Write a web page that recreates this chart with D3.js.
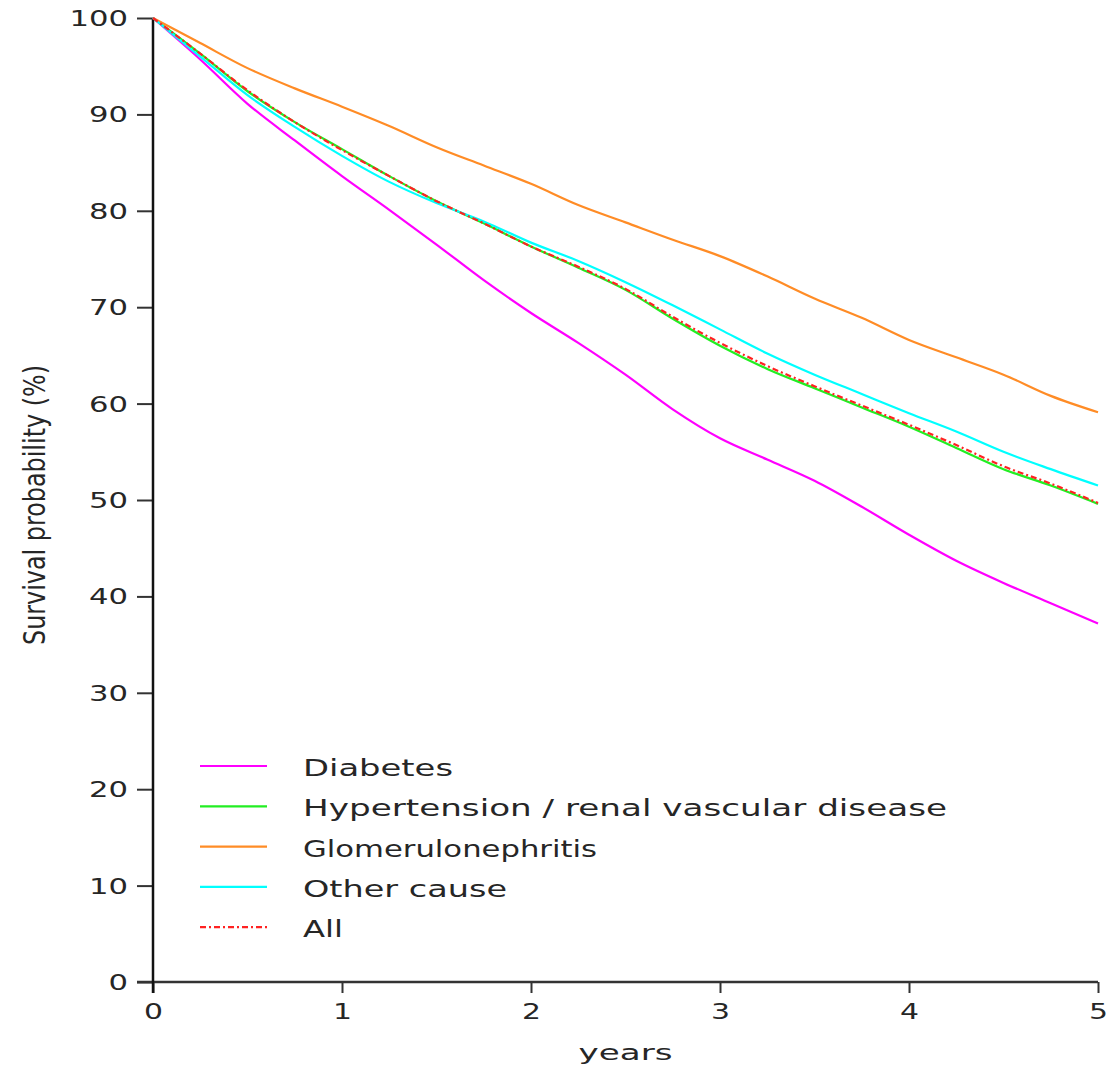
<!DOCTYPE html>
<html>
<head>
<meta charset="utf-8">
<script src="https://cdn.jsdelivr.net/npm/d3@7"></script>
<style>
  html, body { margin: 0; padding: 0; background: #fff; }
  svg { display: block; }
  text { font-family: "DejaVu Sans", Verdana, sans-serif; fill: #262626; }
</style>
</head>
<body>
<svg id="chart" width="1107" height="1066"></svg>
<script>
// Time since start (years)
const years = [0, 0.25, 0.5, 0.75, 1, 1.25, 1.5, 1.75, 2, 2.25, 2.5, 2.75, 3, 3.25, 3.5, 3.75, 4, 4.25, 4.5, 4.75, 5];

// Survival probability (%) by primary cause
const diabetes           = [100, 95.7, 91.1, 87.3, 83.6, 80.1, 76.5, 72.8, 69.4, 66.3, 63.0, 59.4, 56.4, 54.2, 52.0, 49.3, 46.4, 43.7, 41.4, 39.3, 37.2];
const hypertension       = [100, 96.3, 92.4, 89.2, 86.4, 83.6, 81.0, 78.7, 76.3, 74.1, 71.8, 68.8, 66.0, 63.6, 61.6, 59.6, 57.6, 55.4, 53.2, 51.5, 49.6];
const glomerulonephritis = [100, 97.4, 94.8, 92.7, 90.8, 88.8, 86.6, 84.7, 82.8, 80.6, 78.8, 77.0, 75.3, 73.2, 70.9, 68.9, 66.6, 64.8, 63.0, 60.8, 59.1];
const otherCause         = [100, 96.0, 92.0, 88.7, 85.7, 83.0, 80.8, 78.9, 76.7, 74.8, 72.6, 70.2, 67.7, 65.2, 63.0, 61.0, 59.0, 57.1, 55.0, 53.2, 51.5];
const allCauses          = [100, 96.3, 92.5, 89.2, 86.3, 83.6, 81.0, 78.7, 76.3, 74.2, 71.9, 69.0, 66.3, 63.9, 61.8, 59.8, 57.8, 55.7, 53.5, 51.7, 49.7];

const seriesNames = ["Diabetes", "Hypertension / renal vascular disease", "Glomerulonephritis", "Other cause", "All"];
const seriesValues = [diabetes, hypertension, glomerulonephritis, otherCause, allCauses];

const xTicks = [0, 1, 2, 3, 4, 5];
const yTicks = [0, 10, 20, 30, 40, 50, 60, 70, 80, 90, 100];

const xTitle = "years";
const yTitle = "Survival probability (%)";

// Styling per series
const seriesColors = ["#ff00ff", "#22ee22", "#ff8c26", "#00ffff", "#ff2222"];
const seriesDash = [null, null, null, null, "6,3,2,3"];
const legendTextWidths = [150, 644, 294, 204, 40];

const svg = d3.select("#chart");

const x = d3.scaleLinear().domain([0, 5]).range([153, 1098]);
const y = d3.scaleLinear().domain([0, 100]).range([982, 18]);

// Wide, letter-spaced label look
function stretch(sel, perChar) {
  sel.attr("textLength", function () { return this.textContent.length * perChar; })
     .attr("lengthAdjust", "spacingAndGlyphs");
}

// Y axis
const yAxis = svg.append("g")
  .attr("transform", `translate(${x(0)},0)`)
  .call(d3.axisLeft(y).tickValues(yTicks).tickFormat(d3.format("d")).tickSize(16).tickSizeOuter(0).tickPadding(9));
yAxis.select(".domain").remove();
yAxis.selectAll(".tick line").attr("stroke", "#333").attr("stroke-width", 2);
yAxis.selectAll(".tick text")
  .attr("font-size", 21)
  .attr("font-family", "DejaVu Sans, sans-serif")
  .attr("fill", "#2a2a2a")
  .attr("dy", "0.36em")
  .call(stretch, 19.5);

// X axis
const xAxis = svg.append("g")
  .attr("transform", `translate(0,${y(0)})`)
  .call(d3.axisBottom(x).tickValues(xTicks).tickFormat(d3.format("d")).tickSize(11).tickSizeOuter(0).tickPadding(11));
xAxis.select(".domain").remove();
xAxis.selectAll(".tick line").attr("stroke", "#333").attr("stroke-width", 2);
xAxis.selectAll(".tick text")
  .attr("font-size", 21)
  .attr("font-family", "DejaVu Sans, sans-serif")
  .attr("fill", "#2a2a2a")
  .call(stretch, 19);

// Axis lines
svg.append("line")
  .attr("x1", x(0) - 16).attr("x2", x(5))
  .attr("y1", y(0)).attr("y2", y(0))
  .attr("stroke", "#333").attr("stroke-width", 2.5);
svg.append("line")
  .attr("x1", x(0)).attr("x2", x(0))
  .attr("y1", y(100)).attr("y2", y(0) + 11)
  .attr("stroke", "#111").attr("stroke-width", 2.5);

// Axis titles
svg.append("text")
  .attr("x", (x(0) + x(5)) / 2)
  .attr("y", 1060)
  .attr("text-anchor", "middle")
  .attr("font-size", 21)
  .attr("textLength", 94)
  .attr("lengthAdjust", "spacingAndGlyphs")
  .text(xTitle);

svg.append("text")
  .attr("transform", "translate(45,505) rotate(-90)")
  .attr("text-anchor", "middle")
  .attr("font-size", 30)
  .attr("textLength", 280)
  .attr("lengthAdjust", "spacingAndGlyphs")
  .text(yTitle);

// Survival curves
const line = d3.line()
  .x((d, i) => x(years[i]))
  .y(d => y(d))
  .curve(d3.curveMonotoneX);

svg.append("g")
  .selectAll("path")
  .data(seriesValues)
  .join("path")
  .attr("d", d => line(d))
  .attr("fill", "none")
  .attr("stroke", (d, i) => seriesColors[i])
  .attr("stroke-width", 2.2)
  .attr("stroke-dasharray", (d, i) => seriesDash[i])
  .attr("stroke-linejoin", "round");

// Legend
const legend = svg.append("g");
const rows = legend.selectAll("g")
  .data(seriesNames)
  .join("g")
  .attr("transform", (d, i) => `translate(0,${766 + i * 40.3})`);

rows.append("line")
  .attr("x1", 200).attr("x2", 267)
  .attr("y1", 0).attr("y2", 0)
  .attr("stroke", (d, i) => seriesColors[i])
  .attr("stroke-width", 2.2)
  .attr("stroke-dasharray", (d, i) => seriesDash[i]);

rows.append("text")
  .attr("x", 303)
  .attr("y", 10)
  .attr("font-size", 22.5)
  .attr("textLength", (d, i) => legendTextWidths[i])
  .attr("lengthAdjust", "spacingAndGlyphs")
  .text(d => d);
</script>
</body>
</html>
